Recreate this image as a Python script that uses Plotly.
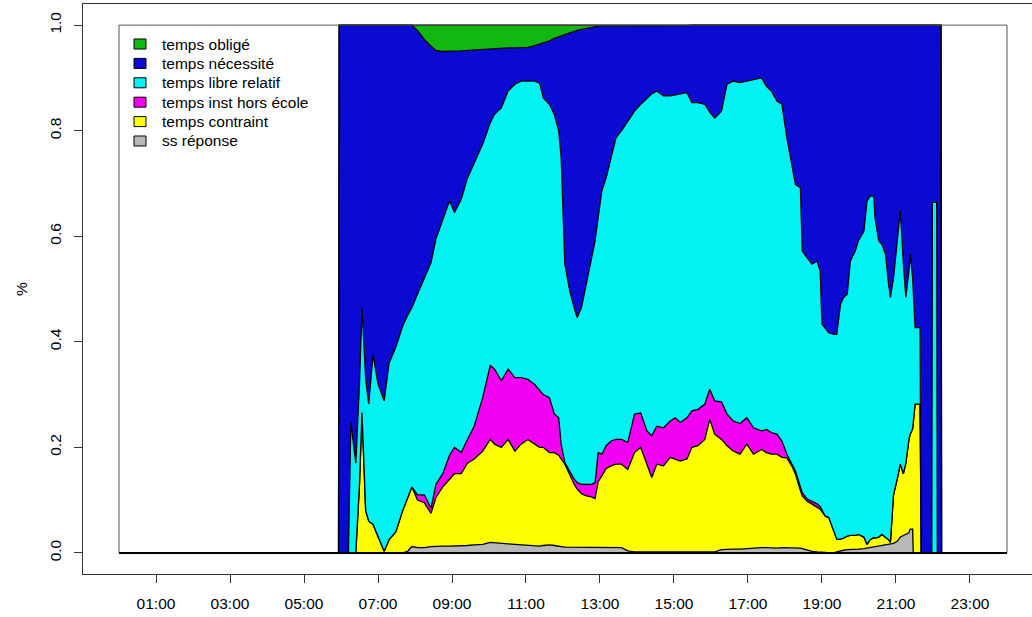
import plotly.graph_objects as go

# ---- data (proportions) ----
times = ["00:00", "05:56", "05:57", "06:12", "06:16", "06:24", "06:30", "06:34", "06:40", "06:45",
         "06:52", "07:00", "07:10", "07:18", "07:29", "07:40", "07:48", "07:55", "08:04", "08:15",
         "08:26", "08:34", "08:45", "08:56", "09:04", "09:15", "09:25", "09:36", "09:50", "10:02",
         "10:09", "10:20", "10:31", "10:42", "10:52", "11:03", "11:14", "11:22", "11:28", "11:38",
         "11:46", "11:53", "11:57", "12:03", "12:11", "12:18", "12:23", "12:30", "12:38", "12:46",
         "12:52", "12:57", "13:03", "13:10", "13:18", "13:26", "13:35", "13:45", "13:56", "14:06",
         "14:16", "14:24", "14:32", "14:43", "14:54", "15:02", "15:10", "15:21", "15:29", "15:39",
         "15:50", "15:58", "16:06", "16:17", "16:26", "16:36", "16:47", "16:58", "17:09", "17:22",
         "17:30", "17:38", "17:47", "17:55", "18:03", "18:11", "18:17", "18:25", "18:28", "18:36",
         "18:44", "18:52", "18:57", "19:00", "19:05", "19:11", "19:19", "19:24", "19:30", "19:35",
         "19:41", "19:46", "19:54", "19:59", "20:08", "20:13", "20:18", "20:24", "20:26", "20:32",
         "20:37", "20:43", "20:48", "20:51", "20:56", "21:02", "21:07", "21:12", "21:16", "21:21",
         "21:23", "21:27", "21:28", "21:31", "21:39", "21:41", "21:58", "21:59", "22:06", "22:07",
         "22:13", "22:14", "24:00"]

ss_reponse = [0, 0, 0, 0, 0, 0, 0, 0, 0, 0,
              0, 0, 0, 0, 0, 0, .003, .012, .01, .01,
              .012, .013, .013, .013, .013, .013, .014, .015, .016, .02,
              .019, .018, .017, .016, .015, .014, .013, .013, .014, .015,
              .014, .012, .012, .011, .011, .011, .011, .011, .011, .011,
              .011, .011, .011, .01, .01, .01, .01, .004, .002, .002,
              .002, .002, .002, .002, .002, .002, .002, .002, .002, .002,
              .002, .002, .002, .006, .007, .007, .007, .008, .01, .01,
              .01, .009, .009, .01, .01, .01, .01, .009, .008, .005,
              .003, .002, .002, .002, .001, 0, 0, .002, .004, .005,
              .006, .006, .007, .007, .008, .009, .01, .012, .012, .013,
              .014, .015, .016, .016, .018, .022, .03, .033, .035, .038,
              .045, .045, 0, 0, 0, 0, 0, 0, 0, 0,
              0, 0, 0]

temps_contraint = [0, 0, 0, 0, 0, 0, .13, .266, .08, .06,
                   .054, .03, .003, .025, .04, .08, .102, .113, .09, .085,
                   .063, .092, .112, .127, .137, .137, .156, .163, .177, .195,
                   .187, .182, .198, .177, .191, .201, .193, .187, .186, .175,
                   .176, .173, .166, .157, .137, .119, .11, .101, .097, .095,
                   .092, .124, .135, .15, .155, .158, .158, .154, .188, .198,
                   .166, .141, .166, .163, .179, .176, .172, .176, .198, .201,
                   .213, .251, .223, .209, .196, .186, .18, .198, .177, .186,
                   .18, .178, .178, .171, .17, .155, .139, .109, .10, .093,
                   .089, .085, .081, .076, .069, .067, .042, .024, .022, .023,
                   .026, .027, .026, .028, .022, .007, .015, .017, .016, .017,
                   .021, .015, .009, .004, .092, .118, .138, .117, .135, .177,
                   .18, .19, .245, .282, .282, 0, 0, 0, 0, 0,
                   0, 0, 0]

temps_inst_hors_ecole = [0, 0, 0, 0, 0, 0, 0, 0, 0, 0,
                         0, 0, 0, 0, 0, 0, 0, 0, .01, .015,
                         .01, .025, .025, .045, .05, .04, .045, .062, .102, .14,
                         .142, .126, .133, .139, .126, .114, .113, .107, .10, .104,
                         .073, .071, .028, .003, .007, .01, .012, .018, .022, .024,
                         .03, .055, .041, .043, .047, .047, .047, .051, .073, .065,
                         .063, .079, .072, .072, .069, .078, .073, .078, .069, .069,
                         .067, .057, .063, .071, .06, .057, .058, .05, .05, .035,
                         .044, .041, .038, .031, .007, .003, .006, .007, .006, .004,
                         .006, .006, .005, .002, 0, 0, 0, 0, 0, 0,
                         0, 0, 0, 0, 0, 0, 0, 0, 0, 0,
                         0, 0, 0, 0, 0, 0, 0, 0, 0, 0,
                         0, 0, 0, 0, 0, 0, 0, 0, 0, 0,
                         0, 0, 0]

temps_libre_relatif = [0, 0, 0, 0, .247, .17, .19, .199, .25, .222,
                       .322, .29, .285, .335, .35, .35, .345, .34, .38, .41,
                       .465, .465, .48, .482, .445, .48, .495, .50, .48, .46,
                       .483, .517, .527, .556, .562, .565, .575, .583, .562, .556,
                       .567, .544, .544, .376, .341, .325, .313, .335, .379, .429,
                       .458, .445, .499, .508, .537, .572, .585, .609, .574, .585,
                       .631, .648, .635, .629, .616, .612, .623, .616, .584, .581,
                       .568, .525, .536, .551, .625, .644, .646, .638, .66, .669,
                       .65, .647, .631, .638, .60, .568, .543, .567, .458, .457,
                       .449, .46, .446, .353, .356, .35, .372, .388, .445, .456,
                       .458, .52, .539, .556, .58, .651, .651, .647, .607, .561,
                       .55, .536, .484, .464, .411, .457, .48, .397, .314, .319,
                       .341, .286, .245, .145, .145, 0, 0, .664, .664, 0,
                       0, 0, 0]

temps_necessite = [0, 0, 1, 1, .753, .83, .68, .535, .67, .718,
                   .624, .68, .712, .64, .61, .57, .55, .535, .50, .453,
                   .41, .357, .32, .283, .305, .281, .242, .213, .179, .14,
                   .124, .113, .082, .069, .063, .064, .067, .074, .104, .12,
                   .145, .178, .23, .435, .489, .523, .544, .527, .485, .437,
                   .406, .363, .312, .287, .249, .211, .198, .18, .161, .148,
                   .136, .128, .123, .132, .132, .13, .128, .127, .147, .147,
                   .15, .165, .176, .163, .112, .106, .109, .106, .103, .10,
                   .116, .125, .144, .15, .213, .264, .302, .308, .428, .441,
                   .453, .447, .466, .567, .574, .583, .586, .586, .529, .516,
                   .51, .447, .428, .409, .39, .333, .324, .324, .365, .409,
                   .415, .434, .491, .516, .479, .403, .352, .453, .516, .466,
                   .434, .479, .51, .573, .573, 1, 1, .336, .336, 1,
                   1, 0, 0]

temps_oblige = [0, 0, 0, 0, 0, 0, 0, 0, 0, 0,
                0, 0, 0, 0, 0, 0, 0, 0, .01, .027,
                .04, .048, .05, .05, .05, .049, .048, .047, .046, .045,
                .045, .044, .043, .043, .043, .042, .039, .036, .034, .03,
                .025, .022, .02, .018, .015, .012, .01, .008, .006, .004,
                .003, .002, .002, .002, .002, .002, .002, .002, .002, .002,
                .002, .002, .002, .002, .002, .002, .002, .001, 0, 0,
                0, 0, 0, 0, 0, 0, 0, 0, 0, 0,
                0, 0, 0, 0, 0, 0, 0, 0, 0, 0,
                0, 0, 0, 0, 0, 0, 0, 0, 0, 0,
                0, 0, 0, 0, 0, 0, 0, 0, 0, 0,
                0, 0, 0, 0, 0, 0, 0, 0, 0, 0,
                0, 0, 0, 0, 0, 0, 0, 0, 0, 0,
                0, 0, 0]

legend_names = ["temps obligé", "temps nécessité", "temps libre relatif",
                "temps inst hors école", "temps contraint", "ss réponse"]
tick_hours = [1, 3, 5, 7, 9, 11, 13, 15, 17, 19, 21, 23]
tick_labels = ["01:00", "03:00", "05:00", "07:00", "09:00", "11:00",
               "13:00", "15:00", "17:00", "19:00", "21:00", "23:00"]
y_ticks = [0.0, 0.2, 0.4, 0.6, 0.8, 1.0]

# ---- styling ----
colors = {
    "temps obligé": "#12B812",
    "temps nécessité": "#0A0AD2",
    "temps libre relatif": "#00F2F2",
    "temps inst hors école": "#F200F2",
    "temps contraint": "#FFFF00",
    "ss réponse": "#B8B8B8",
}
FONT = "Liberation Sans, Arial, Helvetica, sans-serif"
W, H = 1032, 617
ML, MR, MT, MB = 83, 0, 4, 43


def to_hours(t):
    h, m = t.split(":")
    return int(h) + int(m) / 60.0


def px_x(px):
    return (px - ML) / (W - ML - MR)


def px_y(py):
    return 1 - (py - MT) / (H - MT - MB)


hours = [to_hours(t) for t in times]

stack = [
    ("ss réponse", ss_reponse),
    ("temps contraint", temps_contraint),
    ("temps inst hors école", temps_inst_hors_ecole),
    ("temps libre relatif", temps_libre_relatif),
    ("temps nécessité", temps_necessite),
    ("temps obligé", temps_oblige),
]

fig = go.Figure()
for name, vals in stack:
    fig.add_trace(go.Scatter(
        x=hours, y=vals, stackgroup="one", mode="lines",
        line=dict(color="black", width=1.3), fillcolor=colors[name],
        name=name, showlegend=False, hoverinfo="skip"))

# frame of the data region and the baseline
fig.add_shape(type="rect", xref="x", yref="y", x0=hours[0], x1=hours[-1],
              y0=0, y1=1, line=dict(color="#555555", width=1), layer="above")
fig.add_shape(type="line", xref="x", yref="y", x0=hours[0], x1=hours[-1],
              y0=0, y1=0, line=dict(color="black", width=2), layer="above")

# legend (R style: filled squares with black border, no box)
for i, name in enumerate(legend_names):
    cy = 44 + 19.4 * i
    fig.add_shape(type="rect", xref="paper", yref="paper",
                  x0=px_x(134), x1=px_x(146), y0=px_y(cy + 5), y1=px_y(cy - 5),
                  fillcolor=colors[name], line=dict(color="black", width=1),
                  layer="above")
    fig.add_annotation(xref="paper", yref="paper", x=px_x(160), y=px_y(cy),
                       xanchor="left", yanchor="middle", text=name,
                       showarrow=False, font=dict(family=FONT, size=15.5, color="black"))

fig.update_layout(
    width=W, height=H,
    margin=dict(l=ML, r=MR, t=MT, b=MB),
    paper_bgcolor="white", plot_bgcolor="white",
    font=dict(family=FONT, size=15.5, color="black"),
    showlegend=False,
    xaxis=dict(range=[-0.973, 24.676], tickvals=tick_hours, ticktext=tick_labels,
               ticks="outside", ticklen=8, tickcolor="#333333",
               showline=True, linecolor="#333333", linewidth=1, mirror=True,
               showgrid=False, zeroline=False, ticklabelstandoff=7,
               tickfont=dict(family=FONT, size=15.5)),
    yaxis=dict(range=[-0.04, 1.04], tickvals=y_ticks, tickformat=".1f",
               tickangle=-90, ticks="outside", ticklen=8, tickcolor="#333333",
               showline=True, linecolor="#333333", linewidth=1,
               showgrid=False, zeroline=False, ticklabelstandoff=7,
               tickfont=dict(family=FONT, size=15.5),
               title=dict(text="%", standoff=15, font=dict(family=FONT, size=15.5))),
)

fig.write_html("out.html", config={"displayModeBar": False},
               post_script="document.body.style.margin='0';document.body.style.padding='0';")
